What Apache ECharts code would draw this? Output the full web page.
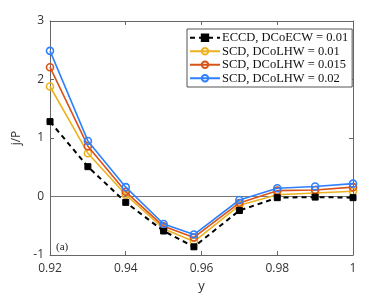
<!DOCTYPE html>
<html><head><meta charset="utf-8">
<script src="https://cdn.jsdelivr.net/npm/echarts@6/dist/echarts.min.js"></script>
<style>html,body{margin:0;padding:0;background:#fff}#c{width:390px;height:293px}</style>
</head><body><div id="c"></div>
<script>
const xVals = [0.92, 0.93, 0.94, 0.95, 0.958, 0.97, 0.98, 0.99, 1.0];
const eccd = [1.28, 0.51, -0.10, -0.59, -0.86, -0.24, -0.02, -0.01, -0.02];
const scd010 = [1.88, 0.74, 0.03, -0.55, -0.77, -0.15, 0.03, 0.06, 0.09];
const scd015 = [2.21, 0.86, 0.08, -0.51, -0.70, -0.11, 0.10, 0.11, 0.16];
const scd020 = [2.49, 0.95, 0.16, -0.47, -0.65, -0.06, 0.14, 0.17, 0.22];
const names = ['ECCD, DCoECW = 0.01', 'SCD, DCoLHW = 0.01', 'SCD, DCoLHW = 0.015', 'SCD, DCoLHW = 0.02'];
const xTicks = [0.92, 0.94, 0.96, 0.98, 1];
const yTicks = [-1, 0, 1, 2, 3];

const pair = a => xVals.map((x, i) => [x, a[i]]);
const chart = echarts.init(document.getElementById('c'));
const axisCol = '#666';
const lblCol = '#333';
const sans = 'Open Sans';
const serif = 'Liberation Serif';
function lineSeries(name, data, color, sym, dashed, z) {
  return {
    name, type: 'line', data: pair(data), z,
    symbol: sym, symbolSize: sym === 'rect' ? 6 : 7,
    showAllSymbol: true,
    lineStyle: { color, width: dashed ? 2 : 1.6, type: dashed ? [5, 4] : 'solid' },
    itemStyle: sym === 'rect'
      ? { color: '#000', borderColor: '#000', borderWidth: 1 }
      : { color: 'rgba(255,255,255,0)', borderColor: color, borderWidth: 1.6 },
    emphasis: { disabled: true }
  };
}
chart.setOption({
  animation: false,
  grid: { left: 50, right: 37, top: 21, bottom: 38, outerBoundsMode: 'none', containLabel: false },
  xAxis: [
    { type: 'value', min: 0.92, max: 1, interval: 0.02, position: 'bottom',
      axisLine: { show: true, onZero: false, lineStyle: { color: axisCol, width: 1 } },
      axisTick: { show: true, inside: true, length: 4, lineStyle: { color: axisCol } },
      axisLabel: { color: lblCol, fontFamily: sans, fontSize: 12, margin: 8,
        formatter: v => { const r = Math.round(v * 100) / 100; return r === 1 ? '1' : r.toFixed(2); } },
      splitLine: { show: false },
      name: 'y', nameLocation: 'middle', nameGap: 24,
      nameTextStyle: { color: lblCol, fontFamily: sans, fontSize: 13 } },
    { type: 'value', min: 0.92, max: 1, interval: 0.02, position: 'top',
      axisLine: { show: true, onZero: false, lineStyle: { color: axisCol, width: 1 } },
      axisTick: { show: true, inside: true, length: 4, lineStyle: { color: axisCol } },
      axisLabel: { show: false }, splitLine: { show: false } }
  ],
  yAxis: [
    { type: 'value', min: -1, max: 3, interval: 1, position: 'left',
      axisLine: { show: true, onZero: false, lineStyle: { color: axisCol, width: 1 } },
      axisTick: { show: true, inside: true, length: 4, lineStyle: { color: axisCol } },
      axisLabel: { color: lblCol, fontFamily: sans, fontSize: 12, margin: 6 },
      splitLine: { show: false },
      name: 'j/P', nameLocation: 'middle', nameGap: 27, nameRotate: 90,
      nameTextStyle: { color: lblCol, fontFamily: sans, fontSize: 12 } },
    { type: 'value', min: -1, max: 3, interval: 1, position: 'right',
      axisLine: { show: true, onZero: false, lineStyle: { color: axisCol, width: 1 } },
      axisTick: { show: true, inside: true, length: 4, lineStyle: { color: axisCol } },
      axisLabel: { show: false }, splitLine: { show: false } }
  ],
  legend: {
    orient: 'vertical', left: 187, top: 29, padding: [2, 4, 2, 2],
    itemWidth: 30, itemHeight: 8, itemGap: 0,
    backgroundColor: '#fff', borderColor: '#555', borderWidth: 1, borderRadius: 0,
    textStyle: { fontFamily: serif, fontSize: 12.5, lineHeight: 13.5, color: '#111', padding: [0, 0, 0, -3] },
    data: names
  },
  graphic: [{ type: 'text', left: 56, top: 242, style: { text: '(a)', font: '11px "Liberation Serif"', fill: '#222' } }],
  series: [
    { type: 'line', data: [[0.92, 0], [1, 0]], symbol: 'none', silent: true, z: 1,
      lineStyle: { color: '#777', width: 1.2 } },
    lineSeries(names[0], eccd, '#000', 'rect', true, 5),
    lineSeries(names[1], scd010, '#EDB120', 'circle', false, 3),
    lineSeries(names[2], scd015, '#D95319', 'circle', false, 4),
    lineSeries(names[3], scd020, '#2F80FF', 'circle', false, 5)
  ]
});
</script></body></html>
